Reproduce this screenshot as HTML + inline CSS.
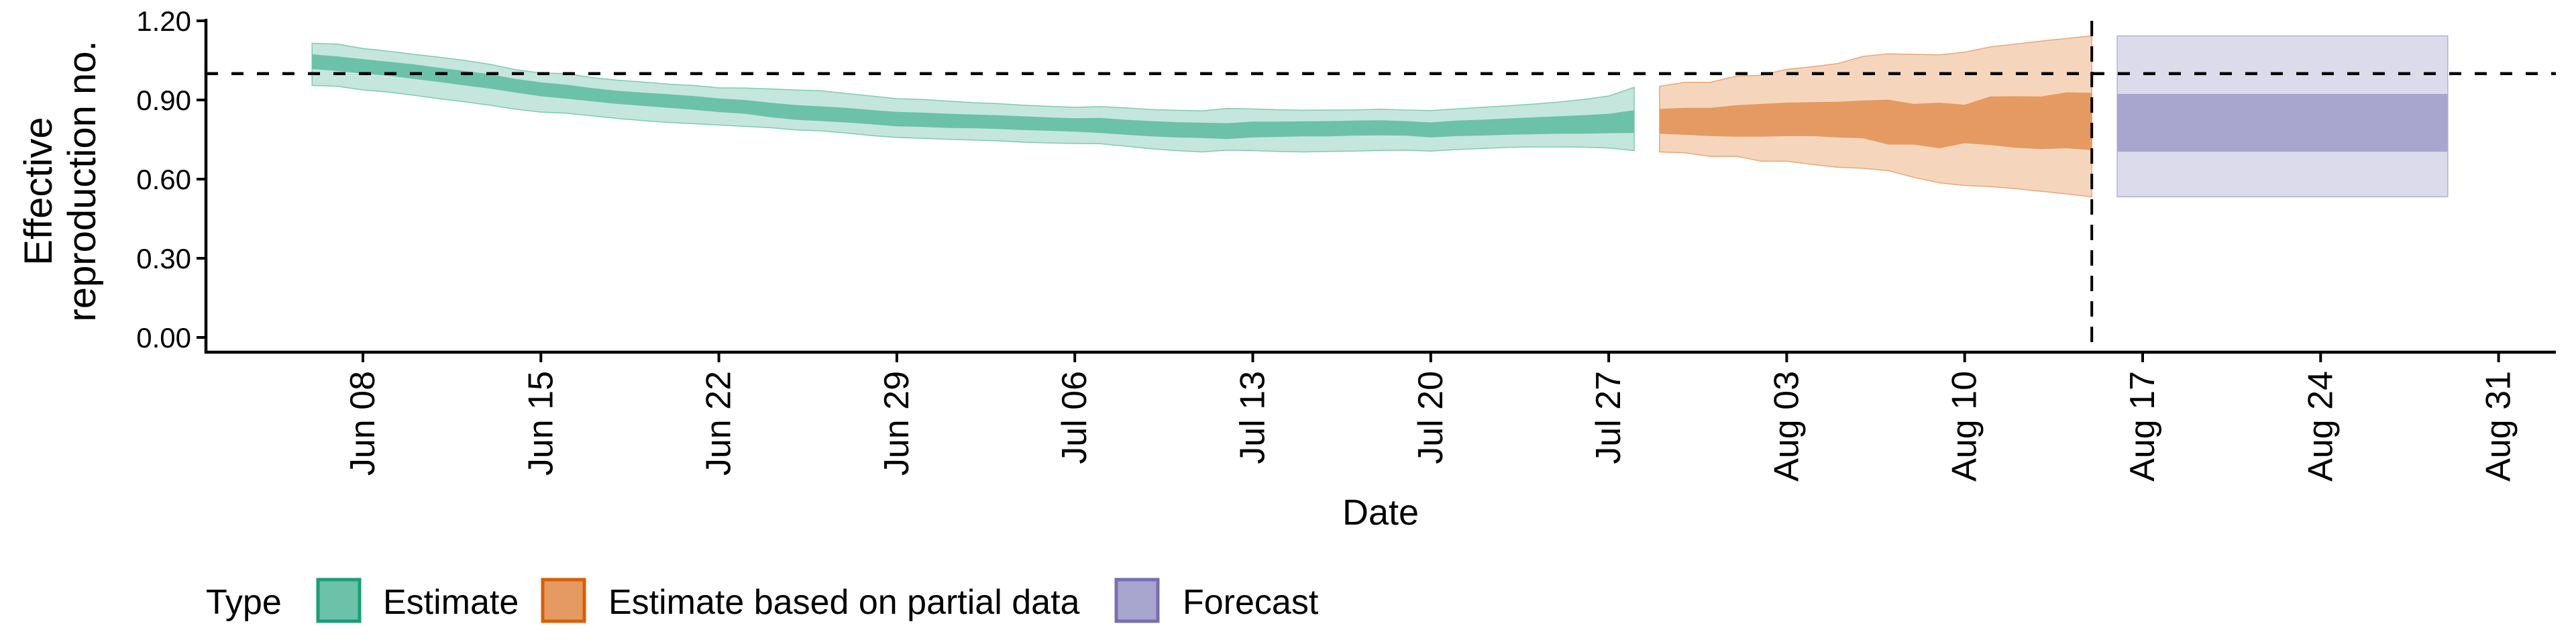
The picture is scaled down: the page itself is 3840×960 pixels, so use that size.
<!DOCTYPE html>
<html><head><meta charset="utf-8"><style>
html,body{margin:0;padding:0;background:#fff;}
svg{display:block;font-family:"Liberation Sans",sans-serif;}
</style></head><body>
<svg id="chart" width="3840" height="960" viewBox="0 0 3840 960" xmlns="http://www.w3.org/2000/svg">
<g id="bands"></g>
<g id="axes"></g>
<text transform="translate(77,285) rotate(-90)" text-anchor="middle" font-size="58">Effective</text>
<text transform="translate(142,270) rotate(-90)" text-anchor="middle" font-size="58">reproduction no.</text>
<text x="2058" y="782" text-anchor="middle" font-size="54">Date</text>
<g font-size="52">
<text x="307" y="915">Type</text>
<rect x="474" y="864" width="62" height="62" fill="#6cc1a9" stroke="#1b9e77" stroke-width="5"/>
<text x="571" y="915">Estimate</text>
<rect x="809" y="864" width="62" height="62" fill="#e59a61" stroke="#d95f02" stroke-width="5"/>
<text x="907" y="915">Estimate based on partial data</text>
<rect x="1664" y="864" width="62" height="62" fill="#a8a5cf" stroke="#7570b3" stroke-width="5"/>
<text x="1763" y="915">Forecast</text>
</g>
</svg>
<script>
// day offsets relative to Jun 08
const estDays = [-2,-1,0,1,2,3,4,5,6,7,8,9,10,11,12,13,14,15,16,17,18,19,20,21,22,23,24,25,26,27,28,29,30,31,32,33,34,35,36,37,38,39,40,41,42,43,44,45,46,47,48,49,50];
const estHi90 = [1.115,1.112,1.095,1.085,1.073,1.062,1.050,1.035,1.015,1.002,1.000,0.985,0.975,0.968,0.960,0.955,0.946,0.945,0.942,0.938,0.935,0.925,0.915,0.905,0.902,0.896,0.890,0.886,0.880,0.876,0.872,0.875,0.870,0.864,0.861,0.859,0.868,0.866,0.863,0.861,0.862,0.862,0.865,0.862,0.860,0.866,0.872,0.878,0.884,0.892,0.902,0.915,0.948];
const estHi50 = [1.073,1.065,1.055,1.045,1.035,1.022,1.010,0.998,0.980,0.967,0.958,0.945,0.935,0.928,0.922,0.915,0.906,0.900,0.890,0.881,0.876,0.870,0.862,0.855,0.852,0.848,0.845,0.842,0.838,0.834,0.831,0.832,0.825,0.820,0.816,0.814,0.812,0.818,0.818,0.819,0.820,0.822,0.823,0.820,0.815,0.822,0.825,0.830,0.834,0.838,0.842,0.848,0.861];
const estLo50 = [1.017,1.010,1.000,0.992,0.980,0.968,0.955,0.943,0.928,0.914,0.905,0.895,0.885,0.878,0.870,0.863,0.854,0.848,0.835,0.825,0.820,0.815,0.808,0.800,0.798,0.794,0.793,0.790,0.786,0.783,0.780,0.775,0.768,0.762,0.758,0.756,0.752,0.758,0.760,0.762,0.762,0.765,0.766,0.765,0.758,0.763,0.765,0.768,0.770,0.772,0.772,0.774,0.775];
const estLo90 = [0.955,0.952,0.938,0.930,0.918,0.905,0.893,0.880,0.865,0.854,0.850,0.840,0.830,0.822,0.815,0.810,0.805,0.800,0.795,0.787,0.783,0.775,0.765,0.758,0.755,0.751,0.748,0.745,0.740,0.737,0.735,0.734,0.725,0.715,0.708,0.703,0.710,0.708,0.705,0.703,0.705,0.706,0.709,0.710,0.706,0.712,0.716,0.720,0.722,0.722,0.721,0.718,0.708];
const partDays = [51,52,53,54,55,56,57,58,59,60,61,62,63,64,65,66,67,68];
const partHi90 = [0.952,0.967,0.967,0.990,0.994,1.016,1.026,1.038,1.065,1.075,1.073,1.071,1.081,1.101,1.112,1.123,1.133,1.143];
const partHi50 = [0.866,0.870,0.870,0.880,0.885,0.890,0.892,0.893,0.898,0.901,0.885,0.890,0.882,0.913,0.914,0.913,0.929,0.927];
const partLo50 = [0.772,0.768,0.763,0.761,0.761,0.763,0.763,0.758,0.755,0.731,0.731,0.717,0.736,0.729,0.719,0.714,0.717,0.710];
const partLo90 = [0.703,0.700,0.686,0.687,0.668,0.668,0.656,0.645,0.641,0.632,0.607,0.586,0.576,0.572,0.564,0.554,0.544,0.533];
const fcDays = [69,70,71,72,73,74,75,76,77,78,79,80,81,82];
const fcHi90 = [1.143,1.143,1.143,1.143,1.143,1.143,1.143,1.143,1.143,1.143,1.143,1.143,1.143,1.143];
const fcHi50 = [0.923,0.923,0.923,0.923,0.923,0.923,0.923,0.923,0.923,0.923,0.923,0.923,0.923,0.923];
const fcLo50 = [0.704,0.704,0.704,0.704,0.704,0.704,0.704,0.704,0.704,0.704,0.704,0.704,0.704,0.704];
const fcLo90 = [0.533,0.533,0.533,0.533,0.533,0.533,0.533,0.533,0.533,0.533,0.533,0.533,0.533,0.533];
const yTicks = [0, 0.3, 0.6, 0.9, 1.2];
const yTickLabels = ["0.00","0.30","0.60","0.90","1.20"];
const xTickDays = [0,7,14,21,28,35,42,49,56,63,70,77,84];
const xTickLabels = ["Jun 08","Jun 15","Jun 22","Jun 29","Jul 06","Jul 13","Jul 20","Jul 27","Aug 03","Aug 10","Aug 17","Aug 24","Aug 31"];
const refLine = 1.0;
const forecastStart = 68;

const NS = "http://www.w3.org/2000/svg";
const xS = d => 541 + d * 37.9;
const yS = v => 503 - v * 393.3;
const bands = document.getElementById('bands');
const axes = document.getElementById('axes');

function ribbon(days, hi, lo, fill, stroke, name) {
  let pts = days.map((d,i) => xS(d).toFixed(1)+','+yS(hi[i]).toFixed(1));
  for (let i = days.length-1; i >= 0; i--) pts.push(xS(days[i]).toFixed(1)+','+yS(lo[i]).toFixed(1));
  const p = document.createElementNS(NS,'polygon');
  p.setAttribute('points', pts.join(' '));
  p.setAttribute('fill', fill);
  if (stroke) { p.setAttribute('stroke', stroke); p.setAttribute('stroke-width', '1.5'); }
  
  
  bands.appendChild(p);
}
ribbon(estDays, estHi90, estLo90, '#c5e6dc', '#7fcbb2', 'estimate-90-band');
ribbon(estDays, estHi50, estLo50, '#6cc1a9', null, 'estimate-50-band');
ribbon(partDays, partHi90, partLo90, '#f5d6bd', '#eba577', 'partial-90-band');
ribbon(partDays, partHi50, partLo50, '#e59a61', null, 'partial-50-band');
ribbon(fcDays, fcHi90, fcLo90, '#dcdbeb', '#b3b0d6', 'forecast-90-band');
ribbon(fcDays, fcHi50, fcLo50, '#a8a5cf', null, 'forecast-50-band');

function line(x1,y1,x2,y2,w,dash,name){
  const l = document.createElementNS(NS,'line');
  l.setAttribute('x1',x1); l.setAttribute('y1',y1); l.setAttribute('x2',x2); l.setAttribute('y2',y2);
  l.setAttribute('stroke','#000'); l.setAttribute('stroke-width',w);
  if (dash) l.setAttribute('stroke-dasharray',dash);
  
  
  axes.appendChild(l);
}
line(307, yS(refLine), 3810, yS(refLine), 4.5, '18 20', 'reference-line');
line(xS(forecastStart), 31, xS(forecastStart), 525, 4, '23 15', 'forecast-start-line');
line(307, 28, 307, 527, 4.5, null, 'y-axis-line');
line(305, 525, 3810, 525, 4.5, null, 'x-axis-line');
yTicks.forEach((v,i) => {
  line(293, yS(v), 307, yS(v), 4, null, 'y-tick');
  const t = document.createElementNS(NS,'text');
  t.setAttribute('x', 285); t.setAttribute('y', yS(v)+15);
  t.setAttribute('text-anchor','end'); t.setAttribute('font-size','42');
  t.textContent = yTickLabels[i];
  
  
  axes.appendChild(t);
});
xTickDays.forEach((d,i) => {
  line(xS(d), 525, xS(d), 540, 4, null, 'x-tick');
  const t = document.createElementNS(NS,'text');
  t.setAttribute('transform', 'translate('+(xS(d)+17)+',553) rotate(-90)');
  t.setAttribute('text-anchor','end'); t.setAttribute('font-size','52');
  t.textContent = xTickLabels[i];
  
  
  axes.appendChild(t);
});
</script>
</body></html>
